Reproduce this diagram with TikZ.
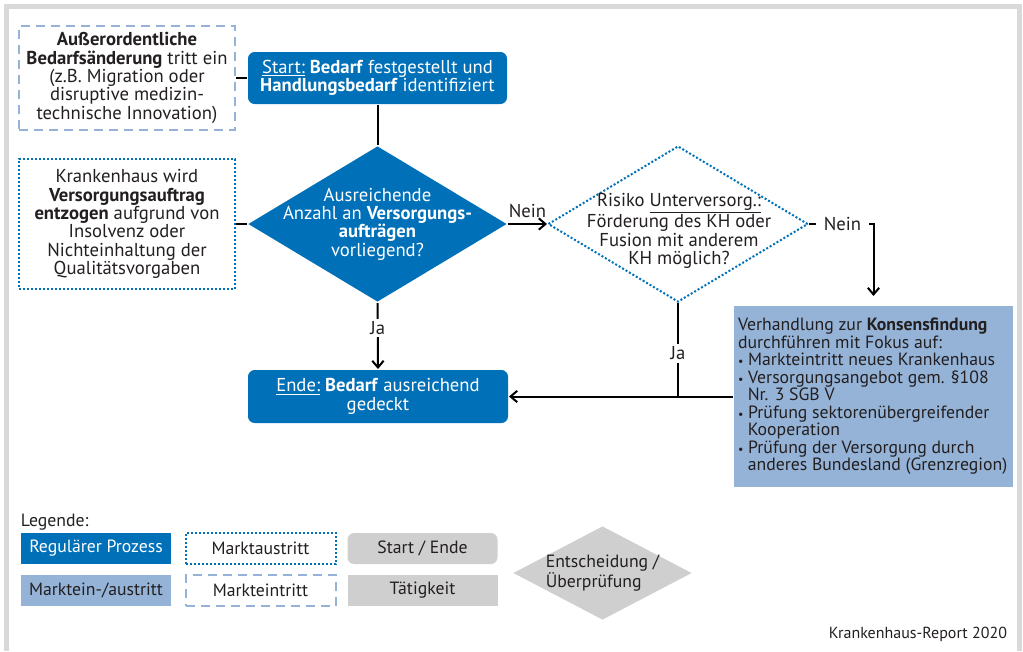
\documentclass[tikz,border=0pt]{standalone}
\usepackage{fontspec}
\setmainfont{PT Sans}
\newfontfamily\legfont{PT Sans}
\usetikzlibrary{shapes.geometric,arrows.meta}
\definecolor{khblue}{HTML}{0070B8}
\definecolor{khlight}{HTML}{95B3D7}
\definecolor{khgray}{HTML}{CFCFCF}
\definecolor{framegray}{HTML}{D9D9D9}
\definecolor{ink}{HTML}{231F20}
\newcommand{\txtsz}{\fontsize{14}{13.8}\selectfont}
\newcommand{\legsz}{\fontsize{13.3}{14}\selectfont}
\tikzset{
  every node/.style={inner sep=0pt, text=ink},
  regular/.style={rectangle, rounded corners=5pt, fill=khblue, text=white, align=center, font=\txtsz},
  austritt/.style={rectangle, draw=khblue, line width=1.5pt, dash pattern=on 1.5pt off 1.5pt, align=center, font=\txtsz},
  eintritt/.style={rectangle, draw=khlight, line width=1.5pt, dash pattern=on 6.75pt off 4.5pt, align=center, font=\txtsz},
  entsch/.style={diamond, inner sep=0pt},
  legbox/.style={rectangle, minimum width=112.5pt, minimum height=23.25pt, font=\legfont\legsz},
  jnlabel/.style={fill=white, inner xsep=3pt, inner ysep=2pt, font=\txtsz}
}

\begin{document}
\begin{tikzpicture}[x=0.75pt, y=-0.75pt, line width=1.5pt, >={Straight Barb[length=5pt,width=8.5pt]}]
  \useasboundingbox (0,0) rectangle (1023,651);
  \draw[framegray, line width=3.75pt] (6.5,651) -- (6.5,6.5) -- (1019.5,6.5) -- (1019.5,651);

  % main flow
  \node[eintritt, minimum width=162pt, minimum height=78pt] (bedarf) at (127,78)
    {\textbf{Außerordentliche}\\\textbf{Bedarfsänderung} tritt ein\\(z.B. Migration oder\\disruptive medizin-\\technische Innovation)};
  \node[regular, minimum width=194.25pt, minimum height=39pt] (start) at (377.5,78)
    {\underline{Start:} \textbf{Bedarf} festgestellt und\\\textbf{Handlungsbedarf} identifiziert};
  \node[austritt, minimum width=162pt, minimum height=97.5pt] (entzug) at (127,224)
    {Krankenhaus wird\\\textbf{Versorgungsauftrag}\\\textbf{entzogen} aufgrund von\\Insolvenz oder\\Nichteinhaltung der\\Qualitätsvorgaben};
  \node[entsch, fill=khblue, minimum width=194.25pt, minimum height=117pt] (anzahl) at (377.5,224) {};
  \node[align=center, text=white, font=\txtsz] at (anzahl)
    {Ausreichende\\Anzahl an \textbf{Versorgungs-}\\\textbf{aufträgen}\\vorliegend?};
  \node[entsch, draw=khblue, line width=1.5pt, dash pattern=on 1.5pt off 1.5pt, minimum width=195pt, minimum height=117pt] (risiko) at (678,224) {};
  \node[align=center, font=\txtsz] at (679,231)
    {Risiko \underline{Unterversorg.:}\\Förderung des KH oder\\Fusion mit anderem\\KH möglich?};
  \node[regular, minimum width=195pt, minimum height=39.75pt] (ende) at (378,396.5)
    {\underline{Ende:} \textbf{Bedarf} ausreichend\\gedeckt};
  \node[rectangle, fill=khlight, minimum width=209.25pt, minimum height=135.75pt] (konsens) at (873.5,396.5) {};
  \node[anchor=west, align=left, font=\fontsize{13.3}{13.1}\selectfont] at ([xshift=3pt]konsens.west)
    {Verhandlung zur \textbf{Konsensfindung}\\durchführen mit Fokus auf:\\
     {\small\textbullet}\ Markteintritt neues Krankenhaus\\
     {\small\textbullet}\ Versorgungsangebot gem. §108\\\hspace*{0.55em}Nr. 3 SGB V\\
     {\small\textbullet}\ Prüfung sektorenübergreifender\\\hspace*{0.55em}Kooperation\\
     {\small\textbullet}\ Prüfung der Versorgung durch\\\hspace*{0.55em}anderes Bundesland (Grenzregion)};

  % connectors
  \draw (bedarf.east) -- (start.west);
  \draw (start.south) -- (anzahl.north);
  \draw (entzug.east) -- (anzahl.west);
  \draw[->] (anzahl.east) -- node[above=4pt, font=\txtsz] {Nein} (risiko.west);
  \draw[->] (anzahl.south) -- node[jnlabel, pos=0.38] {Ja} (ende.north);
  \draw (risiko.south) -- node[jnlabel, pos=0.54] {Ja} (risiko.south |- konsens.west);
  \draw[->] (konsens.west) -- (ende.east);
  \draw[->, shorten >=6.75pt] (risiko.east) -| node[jnlabel, pos=0.26, inner xsep=6pt] {Nein} (konsens.north);

  % legend
  \node[anchor=west, font=\legfont\legsz] (legende) at (20,522) {Legende:};
  \node[legbox, fill=khblue, text=white] (lregular) at (96,548.5) {Regulärer Prozess};
  \node[legbox, draw=khblue, line width=1.5pt, dash pattern=on 1.5pt off 1.5pt] (laustritt) at (260.5,548.5) {Marktaustritt};
  \node[legbox, fill=khgray, rounded corners=5pt] (lstart) at (422.5,548.5) {Start / Ende};
  \node[legbox, fill=khlight] (lmarkt) at (96,590.5) {Marktein-/austritt};
  \node[legbox, draw=khlight, line width=1.5pt, dash pattern=on 6.75pt off 4.5pt] (leintritt) at (260.5,590.5) {Markteintritt};
  \node[legbox, fill=khgray] (ltaetig) at (422.5,590.5) {Tätigkeit};
  \node[entsch, fill=khgray, minimum width=134.25pt, minimum height=70.5pt] (lentsch) at (602.5,573) {};
  \node[align=left, font=\legfont\legsz] at (lentsch) {Entscheidung /\\Überprüfung};

  \node[anchor=east, font=\legfont\fontsize{12}{13}\selectfont] (quelle) at (1008,634) {Krankenhaus-Report 2020};
\end{tikzpicture}
\end{document}
